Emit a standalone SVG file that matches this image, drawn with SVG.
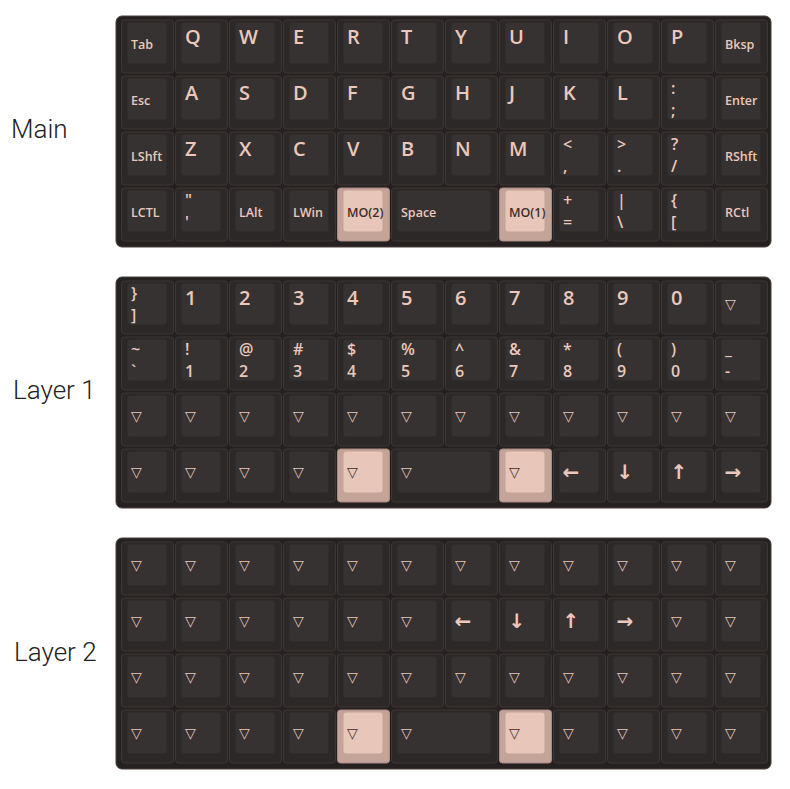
<svg xmlns="http://www.w3.org/2000/svg" width="790" height="789" viewBox="0 0 790 789">
<style>
.frame{fill:#252120;stroke:#4a3e3a;stroke-width:1}
.ko{fill:#2b2827;stroke:#3e3633;stroke-width:1;rx:3px;ry:3px}
.kc{fill:#363231;rx:3px;ry:3px}
.hl .ko{fill:#c4a398;stroke:#a88a80}
.hl .kc{fill:#e8c6ba}
text{font-family:"Open Sans","Liberation Sans",sans-serif;fill:#ebc8bb;font-weight:700}
.hl text{fill:#3d302c}
.b{font-size:20px;font-weight:600}
.s{font-size:12.5px;font-weight:600}
.t{font-size:16px;font-weight:600}
.tri{font-family:"DejaVu Sans",sans-serif;font-size:14px;font-weight:400}
.arr{font-family:"DejaVu Sans",sans-serif;font-size:20px;font-weight:700}
.title{font-family:Roboto,"Liberation Sans",sans-serif;font-size:26px;font-weight:300;fill:#222}
</style>

<g id="titles">
<text class="title" x="11" y="138">Main</text>
<text class="title" x="13" y="399">Layer 1</text>
<text class="title" x="14" y="661">Layer 2</text>
</g>

<g id="main">
<rect class="frame" x="116" y="16" width="655" height="231" rx="6"/>
<!-- row 0 -->
<g id="m-tab" transform="translate(121.5,20)"><rect class="ko" width="52" height="53"/><rect class="kc" x="6" y="2.5" width="39" height="41"/><text class="s" x="9.5" y="29">Tab</text></g>
<g id="m-q" transform="translate(175.5,20)"><rect class="ko" width="52" height="53"/><rect class="kc" x="6" y="2.5" width="39" height="41"/><text class="b" x="9.5" y="23.5">Q</text></g>
<g id="m-w" transform="translate(229.5,20)"><rect class="ko" width="52" height="53"/><rect class="kc" x="6" y="2.5" width="39" height="41"/><text class="b" x="9.5" y="23.5">W</text></g>
<g id="m-e" transform="translate(283.5,20)"><rect class="ko" width="52" height="53"/><rect class="kc" x="6" y="2.5" width="39" height="41"/><text class="b" x="9.5" y="23.5">E</text></g>
<g id="m-r" transform="translate(337.5,20)"><rect class="ko" width="52" height="53"/><rect class="kc" x="6" y="2.5" width="39" height="41"/><text class="b" x="9.5" y="23.5">R</text></g>
<g id="m-t" transform="translate(391.5,20)"><rect class="ko" width="52" height="53"/><rect class="kc" x="6" y="2.5" width="39" height="41"/><text class="b" x="9.5" y="23.5">T</text></g>
<g id="m-y" transform="translate(445.5,20)"><rect class="ko" width="52" height="53"/><rect class="kc" x="6" y="2.5" width="39" height="41"/><text class="b" x="9.5" y="23.5">Y</text></g>
<g id="m-u" transform="translate(499.5,20)"><rect class="ko" width="52" height="53"/><rect class="kc" x="6" y="2.5" width="39" height="41"/><text class="b" x="9.5" y="23.5">U</text></g>
<g id="m-i" transform="translate(553.5,20)"><rect class="ko" width="52" height="53"/><rect class="kc" x="6" y="2.5" width="39" height="41"/><text class="b" x="9.5" y="23.5">I</text></g>
<g id="m-o" transform="translate(607.5,20)"><rect class="ko" width="52" height="53"/><rect class="kc" x="6" y="2.5" width="39" height="41"/><text class="b" x="9.5" y="23.5">O</text></g>
<g id="m-p" transform="translate(661.5,20)"><rect class="ko" width="52" height="53"/><rect class="kc" x="6" y="2.5" width="39" height="41"/><text class="b" x="9.5" y="23.5">P</text></g>
<g id="m-bksp" transform="translate(715.5,20)"><rect class="ko" width="52" height="53"/><rect class="kc" x="6" y="2.5" width="39" height="41"/><text class="s" x="9.5" y="29">Bksp</text></g>
<!-- row 1 -->
<g id="m-esc" transform="translate(121.5,76)"><rect class="ko" width="52" height="53"/><rect class="kc" x="6" y="2.5" width="39" height="41"/><text class="s" x="9.5" y="29">Esc</text></g>
<g id="m-a" transform="translate(175.5,76)"><rect class="ko" width="52" height="53"/><rect class="kc" x="6" y="2.5" width="39" height="41"/><text class="b" x="9.5" y="23.5">A</text></g>
<g id="m-s" transform="translate(229.5,76)"><rect class="ko" width="52" height="53"/><rect class="kc" x="6" y="2.5" width="39" height="41"/><text class="b" x="9.5" y="23.5">S</text></g>
<g id="m-d" transform="translate(283.5,76)"><rect class="ko" width="52" height="53"/><rect class="kc" x="6" y="2.5" width="39" height="41"/><text class="b" x="9.5" y="23.5">D</text></g>
<g id="m-f" transform="translate(337.5,76)"><rect class="ko" width="52" height="53"/><rect class="kc" x="6" y="2.5" width="39" height="41"/><text class="b" x="9.5" y="23.5">F</text></g>
<g id="m-g" transform="translate(391.5,76)"><rect class="ko" width="52" height="53"/><rect class="kc" x="6" y="2.5" width="39" height="41"/><text class="b" x="9.5" y="23.5">G</text></g>
<g id="m-h" transform="translate(445.5,76)"><rect class="ko" width="52" height="53"/><rect class="kc" x="6" y="2.5" width="39" height="41"/><text class="b" x="9.5" y="23.5">H</text></g>
<g id="m-j" transform="translate(499.5,76)"><rect class="ko" width="52" height="53"/><rect class="kc" x="6" y="2.5" width="39" height="41"/><text class="b" x="9.5" y="23.5">J</text></g>
<g id="m-k" transform="translate(553.5,76)"><rect class="ko" width="52" height="53"/><rect class="kc" x="6" y="2.5" width="39" height="41"/><text class="b" x="9.5" y="23.5">K</text></g>
<g id="m-l" transform="translate(607.5,76)"><rect class="ko" width="52" height="53"/><rect class="kc" x="6" y="2.5" width="39" height="41"/><text class="b" x="9.5" y="23.5">L</text></g>
<g id="m-semi" transform="translate(661.5,76)"><rect class="ko" width="52" height="53"/><rect class="kc" x="6" y="2.5" width="39" height="41"/><text class="t" x="9.5" y="18">:</text><text class="t" x="9.5" y="40">;</text></g>
<g id="m-enter" transform="translate(715.5,76)"><rect class="ko" width="52" height="53"/><rect class="kc" x="6" y="2.5" width="39" height="41"/><text class="s" x="9.5" y="29">Enter</text></g>
<!-- row 2 -->
<g id="m-lshft" transform="translate(121.5,132)"><rect class="ko" width="52" height="53"/><rect class="kc" x="6" y="2.5" width="39" height="41"/><text class="s" x="9.5" y="29">LShft</text></g>
<g id="m-z" transform="translate(175.5,132)"><rect class="ko" width="52" height="53"/><rect class="kc" x="6" y="2.5" width="39" height="41"/><text class="b" x="9.5" y="23.5">Z</text></g>
<g id="m-x" transform="translate(229.5,132)"><rect class="ko" width="52" height="53"/><rect class="kc" x="6" y="2.5" width="39" height="41"/><text class="b" x="9.5" y="23.5">X</text></g>
<g id="m-c" transform="translate(283.5,132)"><rect class="ko" width="52" height="53"/><rect class="kc" x="6" y="2.5" width="39" height="41"/><text class="b" x="9.5" y="23.5">C</text></g>
<g id="m-v" transform="translate(337.5,132)"><rect class="ko" width="52" height="53"/><rect class="kc" x="6" y="2.5" width="39" height="41"/><text class="b" x="9.5" y="23.5">V</text></g>
<g id="m-b" transform="translate(391.5,132)"><rect class="ko" width="52" height="53"/><rect class="kc" x="6" y="2.5" width="39" height="41"/><text class="b" x="9.5" y="23.5">B</text></g>
<g id="m-n" transform="translate(445.5,132)"><rect class="ko" width="52" height="53"/><rect class="kc" x="6" y="2.5" width="39" height="41"/><text class="b" x="9.5" y="23.5">N</text></g>
<g id="m-m" transform="translate(499.5,132)"><rect class="ko" width="52" height="53"/><rect class="kc" x="6" y="2.5" width="39" height="41"/><text class="b" x="9.5" y="23.5">M</text></g>
<g id="m-comma" transform="translate(553.5,132)"><rect class="ko" width="52" height="53"/><rect class="kc" x="6" y="2.5" width="39" height="41"/><text class="t" x="9.5" y="18">&lt;</text><text class="t" x="9.5" y="40">,</text></g>
<g id="m-dot" transform="translate(607.5,132)"><rect class="ko" width="52" height="53"/><rect class="kc" x="6" y="2.5" width="39" height="41"/><text class="t" x="9.5" y="18">&gt;</text><text class="t" x="9.5" y="40">.</text></g>
<g id="m-slash" transform="translate(661.5,132)"><rect class="ko" width="52" height="53"/><rect class="kc" x="6" y="2.5" width="39" height="41"/><text class="t" x="9.5" y="18">?</text><text class="t" x="9.5" y="40">/</text></g>
<g id="m-rshft" transform="translate(715.5,132)"><rect class="ko" width="52" height="53"/><rect class="kc" x="6" y="2.5" width="39" height="41"/><text class="s" x="9.5" y="29">RShft</text></g>
<!-- row 3 -->
<g id="m-lctl" transform="translate(121.5,188)"><rect class="ko" width="52" height="53"/><rect class="kc" x="6" y="2.5" width="39" height="41"/><text class="s" x="9.5" y="29">LCTL</text></g>
<g id="m-quote" transform="translate(175.5,188)"><rect class="ko" width="52" height="53"/><rect class="kc" x="6" y="2.5" width="39" height="41"/><text class="t" x="9.5" y="18">"</text><text class="t" x="9.5" y="40">'</text></g>
<g id="m-lalt" transform="translate(229.5,188)"><rect class="ko" width="52" height="53"/><rect class="kc" x="6" y="2.5" width="39" height="41"/><text class="s" x="9.5" y="29">LAlt</text></g>
<g id="m-lwin" transform="translate(283.5,188)"><rect class="ko" width="52" height="53"/><rect class="kc" x="6" y="2.5" width="39" height="41"/><text class="s" x="9.5" y="29">LWin</text></g>
<g id="m-mo2" class="hl" transform="translate(337.5,188)"><rect class="ko" width="52" height="53"/><rect class="kc" x="6" y="2.5" width="39" height="41"/><text class="s" x="9.5" y="29">MO(2)</text></g>
<g id="m-space" transform="translate(391.5,188)"><rect class="ko" width="106" height="53"/><rect class="kc" x="6" y="2.5" width="93" height="41"/><text class="s" x="9.5" y="29">Space</text></g>
<g id="m-mo1" class="hl" transform="translate(499.5,188)"><rect class="ko" width="52" height="53"/><rect class="kc" x="6" y="2.5" width="39" height="41"/><text class="s" x="9.5" y="29">MO(1)</text></g>
<g id="m-equal" transform="translate(553.5,188)"><rect class="ko" width="52" height="53"/><rect class="kc" x="6" y="2.5" width="39" height="41"/><text class="t" x="9.5" y="18">+</text><text class="t" x="9.5" y="40">=</text></g>
<g id="m-bslash" transform="translate(607.5,188)"><rect class="ko" width="52" height="53"/><rect class="kc" x="6" y="2.5" width="39" height="41"/><text class="t" x="9.5" y="18">|</text><text class="t" x="9.5" y="40">\</text></g>
<g id="m-lbrc" transform="translate(661.5,188)"><rect class="ko" width="52" height="53"/><rect class="kc" x="6" y="2.5" width="39" height="41"/><text class="t" x="9.5" y="18">{</text><text class="t" x="9.5" y="40">[</text></g>
<g id="m-rctl" transform="translate(715.5,188)"><rect class="ko" width="52" height="53"/><rect class="kc" x="6" y="2.5" width="39" height="41"/><text class="s" x="9.5" y="29">RCtl</text></g>
</g>

<g id="layer1">
<rect class="frame" x="116" y="277" width="655" height="231" rx="6"/>
<!-- row 0 -->
<g id="l1-rbrc" transform="translate(121.5,281)"><rect class="ko" width="52" height="53"/><rect class="kc" x="6" y="2.5" width="39" height="41"/><text class="t" x="9.5" y="18">}</text><text class="t" x="9.5" y="40">]</text></g>
<g id="l1-1" transform="translate(175.5,281)"><rect class="ko" width="52" height="53"/><rect class="kc" x="6" y="2.5" width="39" height="41"/><text class="b" x="9.5" y="23.5">1</text></g>
<g id="l1-2" transform="translate(229.5,281)"><rect class="ko" width="52" height="53"/><rect class="kc" x="6" y="2.5" width="39" height="41"/><text class="b" x="9.5" y="23.5">2</text></g>
<g id="l1-3" transform="translate(283.5,281)"><rect class="ko" width="52" height="53"/><rect class="kc" x="6" y="2.5" width="39" height="41"/><text class="b" x="9.5" y="23.5">3</text></g>
<g id="l1-4" transform="translate(337.5,281)"><rect class="ko" width="52" height="53"/><rect class="kc" x="6" y="2.5" width="39" height="41"/><text class="b" x="9.5" y="23.5">4</text></g>
<g id="l1-5" transform="translate(391.5,281)"><rect class="ko" width="52" height="53"/><rect class="kc" x="6" y="2.5" width="39" height="41"/><text class="b" x="9.5" y="23.5">5</text></g>
<g id="l1-6" transform="translate(445.5,281)"><rect class="ko" width="52" height="53"/><rect class="kc" x="6" y="2.5" width="39" height="41"/><text class="b" x="9.5" y="23.5">6</text></g>
<g id="l1-7" transform="translate(499.5,281)"><rect class="ko" width="52" height="53"/><rect class="kc" x="6" y="2.5" width="39" height="41"/><text class="b" x="9.5" y="23.5">7</text></g>
<g id="l1-8" transform="translate(553.5,281)"><rect class="ko" width="52" height="53"/><rect class="kc" x="6" y="2.5" width="39" height="41"/><text class="b" x="9.5" y="23.5">8</text></g>
<g id="l1-9" transform="translate(607.5,281)"><rect class="ko" width="52" height="53"/><rect class="kc" x="6" y="2.5" width="39" height="41"/><text class="b" x="9.5" y="23.5">9</text></g>
<g id="l1-0" transform="translate(661.5,281)"><rect class="ko" width="52" height="53"/><rect class="kc" x="6" y="2.5" width="39" height="41"/><text class="b" x="9.5" y="23.5">0</text></g>
<g id="l1-r0c11" transform="translate(715.5,281)"><rect class="ko" width="52" height="53"/><rect class="kc" x="6" y="2.5" width="39" height="41"/><text class="tri" x="9.5" y="28">▽</text></g>
<!-- row 1 -->
<g id="l1-grave" transform="translate(121.5,337)"><rect class="ko" width="52" height="53"/><rect class="kc" x="6" y="2.5" width="39" height="41"/><text class="t" x="9.5" y="18">~</text><text class="t" x="9.5" y="40">`</text></g>
<g id="l1-s1" transform="translate(175.5,337)"><rect class="ko" width="52" height="53"/><rect class="kc" x="6" y="2.5" width="39" height="41"/><text class="t" x="9.5" y="18">!</text><text class="t" x="9.5" y="40">1</text></g>
<g id="l1-s2" transform="translate(229.5,337)"><rect class="ko" width="52" height="53"/><rect class="kc" x="6" y="2.5" width="39" height="41"/><text class="t" x="9.5" y="18">@</text><text class="t" x="9.5" y="40">2</text></g>
<g id="l1-s3" transform="translate(283.5,337)"><rect class="ko" width="52" height="53"/><rect class="kc" x="6" y="2.5" width="39" height="41"/><text class="t" x="9.5" y="18">#</text><text class="t" x="9.5" y="40">3</text></g>
<g id="l1-s4" transform="translate(337.5,337)"><rect class="ko" width="52" height="53"/><rect class="kc" x="6" y="2.5" width="39" height="41"/><text class="t" x="9.5" y="18">$</text><text class="t" x="9.5" y="40">4</text></g>
<g id="l1-s5" transform="translate(391.5,337)"><rect class="ko" width="52" height="53"/><rect class="kc" x="6" y="2.5" width="39" height="41"/><text class="t" x="9.5" y="18">%</text><text class="t" x="9.5" y="40">5</text></g>
<g id="l1-s6" transform="translate(445.5,337)"><rect class="ko" width="52" height="53"/><rect class="kc" x="6" y="2.5" width="39" height="41"/><text class="t" x="9.5" y="18">^</text><text class="t" x="9.5" y="40">6</text></g>
<g id="l1-s7" transform="translate(499.5,337)"><rect class="ko" width="52" height="53"/><rect class="kc" x="6" y="2.5" width="39" height="41"/><text class="t" x="9.5" y="18">&amp;</text><text class="t" x="9.5" y="40">7</text></g>
<g id="l1-s8" transform="translate(553.5,337)"><rect class="ko" width="52" height="53"/><rect class="kc" x="6" y="2.5" width="39" height="41"/><text class="t" x="9.5" y="18">*</text><text class="t" x="9.5" y="40">8</text></g>
<g id="l1-s9" transform="translate(607.5,337)"><rect class="ko" width="52" height="53"/><rect class="kc" x="6" y="2.5" width="39" height="41"/><text class="t" x="9.5" y="18">(</text><text class="t" x="9.5" y="40">9</text></g>
<g id="l1-s0" transform="translate(661.5,337)"><rect class="ko" width="52" height="53"/><rect class="kc" x="6" y="2.5" width="39" height="41"/><text class="t" x="9.5" y="18">)</text><text class="t" x="9.5" y="40">0</text></g>
<g id="l1-minus" transform="translate(715.5,337)"><rect class="ko" width="52" height="53"/><rect class="kc" x="6" y="2.5" width="39" height="41"/><text class="t" x="9.5" y="18">_</text><text class="t" x="9.5" y="40">-</text></g>
<!-- row 2 -->
<g id="l1-r2c0" transform="translate(121.5,393)"><rect class="ko" width="52" height="53"/><rect class="kc" x="6" y="2.5" width="39" height="41"/><text class="tri" x="9.5" y="28">▽</text></g>
<g id="l1-r2c1" transform="translate(175.5,393)"><rect class="ko" width="52" height="53"/><rect class="kc" x="6" y="2.5" width="39" height="41"/><text class="tri" x="9.5" y="28">▽</text></g>
<g id="l1-r2c2" transform="translate(229.5,393)"><rect class="ko" width="52" height="53"/><rect class="kc" x="6" y="2.5" width="39" height="41"/><text class="tri" x="9.5" y="28">▽</text></g>
<g id="l1-r2c3" transform="translate(283.5,393)"><rect class="ko" width="52" height="53"/><rect class="kc" x="6" y="2.5" width="39" height="41"/><text class="tri" x="9.5" y="28">▽</text></g>
<g id="l1-r2c4" transform="translate(337.5,393)"><rect class="ko" width="52" height="53"/><rect class="kc" x="6" y="2.5" width="39" height="41"/><text class="tri" x="9.5" y="28">▽</text></g>
<g id="l1-r2c5" transform="translate(391.5,393)"><rect class="ko" width="52" height="53"/><rect class="kc" x="6" y="2.5" width="39" height="41"/><text class="tri" x="9.5" y="28">▽</text></g>
<g id="l1-r2c6" transform="translate(445.5,393)"><rect class="ko" width="52" height="53"/><rect class="kc" x="6" y="2.5" width="39" height="41"/><text class="tri" x="9.5" y="28">▽</text></g>
<g id="l1-r2c7" transform="translate(499.5,393)"><rect class="ko" width="52" height="53"/><rect class="kc" x="6" y="2.5" width="39" height="41"/><text class="tri" x="9.5" y="28">▽</text></g>
<g id="l1-r2c8" transform="translate(553.5,393)"><rect class="ko" width="52" height="53"/><rect class="kc" x="6" y="2.5" width="39" height="41"/><text class="tri" x="9.5" y="28">▽</text></g>
<g id="l1-r2c9" transform="translate(607.5,393)"><rect class="ko" width="52" height="53"/><rect class="kc" x="6" y="2.5" width="39" height="41"/><text class="tri" x="9.5" y="28">▽</text></g>
<g id="l1-r2c10" transform="translate(661.5,393)"><rect class="ko" width="52" height="53"/><rect class="kc" x="6" y="2.5" width="39" height="41"/><text class="tri" x="9.5" y="28">▽</text></g>
<g id="l1-r2c11" transform="translate(715.5,393)"><rect class="ko" width="52" height="53"/><rect class="kc" x="6" y="2.5" width="39" height="41"/><text class="tri" x="9.5" y="28">▽</text></g>
<!-- row 3 -->
<g id="l1-r3c0" transform="translate(121.5,449)"><rect class="ko" width="52" height="53"/><rect class="kc" x="6" y="2.5" width="39" height="41"/><text class="tri" x="9.5" y="28">▽</text></g>
<g id="l1-r3c1" transform="translate(175.5,449)"><rect class="ko" width="52" height="53"/><rect class="kc" x="6" y="2.5" width="39" height="41"/><text class="tri" x="9.5" y="28">▽</text></g>
<g id="l1-r3c2" transform="translate(229.5,449)"><rect class="ko" width="52" height="53"/><rect class="kc" x="6" y="2.5" width="39" height="41"/><text class="tri" x="9.5" y="28">▽</text></g>
<g id="l1-r3c3" transform="translate(283.5,449)"><rect class="ko" width="52" height="53"/><rect class="kc" x="6" y="2.5" width="39" height="41"/><text class="tri" x="9.5" y="28">▽</text></g>
<g id="l1-r3c4" class="hl" transform="translate(337.5,449)"><rect class="ko" width="52" height="53"/><rect class="kc" x="6" y="2.5" width="39" height="41"/><text class="tri" x="9.5" y="28">▽</text></g>
<g id="l1-r3c5" transform="translate(391.5,449)"><rect class="ko" width="106" height="53"/><rect class="kc" x="6" y="2.5" width="93" height="41"/><text class="tri" x="9.5" y="28">▽</text></g>
<g id="l1-r3c7" class="hl" transform="translate(499.5,449)"><rect class="ko" width="52" height="53"/><rect class="kc" x="6" y="2.5" width="39" height="41"/><text class="tri" x="9.5" y="28">▽</text></g>
<g id="l1-left" transform="translate(553.5,449)"><rect class="ko" width="52" height="53"/><rect class="kc" x="6" y="2.5" width="39" height="41"/><text class="arr" x="9" y="30">←</text></g>
<g id="l1-down" transform="translate(607.5,449)"><rect class="ko" width="52" height="53"/><rect class="kc" x="6" y="2.5" width="39" height="41"/><text class="arr" x="9" y="30">↓</text></g>
<g id="l1-up" transform="translate(661.5,449)"><rect class="ko" width="52" height="53"/><rect class="kc" x="6" y="2.5" width="39" height="41"/><text class="arr" x="9" y="30">↑</text></g>
<g id="l1-right" transform="translate(715.5,449)"><rect class="ko" width="52" height="53"/><rect class="kc" x="6" y="2.5" width="39" height="41"/><text class="arr" x="9" y="30">→</text></g>
</g>

<g id="layer2">
<rect class="frame" x="116" y="538" width="655" height="231" rx="6"/>
<!-- row 0 -->
<g id="l2-r0c0" transform="translate(121.5,542)"><rect class="ko" width="52" height="53"/><rect class="kc" x="6" y="2.5" width="39" height="41"/><text class="tri" x="9.5" y="28">▽</text></g>
<g id="l2-r0c1" transform="translate(175.5,542)"><rect class="ko" width="52" height="53"/><rect class="kc" x="6" y="2.5" width="39" height="41"/><text class="tri" x="9.5" y="28">▽</text></g>
<g id="l2-r0c2" transform="translate(229.5,542)"><rect class="ko" width="52" height="53"/><rect class="kc" x="6" y="2.5" width="39" height="41"/><text class="tri" x="9.5" y="28">▽</text></g>
<g id="l2-r0c3" transform="translate(283.5,542)"><rect class="ko" width="52" height="53"/><rect class="kc" x="6" y="2.5" width="39" height="41"/><text class="tri" x="9.5" y="28">▽</text></g>
<g id="l2-r0c4" transform="translate(337.5,542)"><rect class="ko" width="52" height="53"/><rect class="kc" x="6" y="2.5" width="39" height="41"/><text class="tri" x="9.5" y="28">▽</text></g>
<g id="l2-r0c5" transform="translate(391.5,542)"><rect class="ko" width="52" height="53"/><rect class="kc" x="6" y="2.5" width="39" height="41"/><text class="tri" x="9.5" y="28">▽</text></g>
<g id="l2-r0c6" transform="translate(445.5,542)"><rect class="ko" width="52" height="53"/><rect class="kc" x="6" y="2.5" width="39" height="41"/><text class="tri" x="9.5" y="28">▽</text></g>
<g id="l2-r0c7" transform="translate(499.5,542)"><rect class="ko" width="52" height="53"/><rect class="kc" x="6" y="2.5" width="39" height="41"/><text class="tri" x="9.5" y="28">▽</text></g>
<g id="l2-r0c8" transform="translate(553.5,542)"><rect class="ko" width="52" height="53"/><rect class="kc" x="6" y="2.5" width="39" height="41"/><text class="tri" x="9.5" y="28">▽</text></g>
<g id="l2-r0c9" transform="translate(607.5,542)"><rect class="ko" width="52" height="53"/><rect class="kc" x="6" y="2.5" width="39" height="41"/><text class="tri" x="9.5" y="28">▽</text></g>
<g id="l2-r0c10" transform="translate(661.5,542)"><rect class="ko" width="52" height="53"/><rect class="kc" x="6" y="2.5" width="39" height="41"/><text class="tri" x="9.5" y="28">▽</text></g>
<g id="l2-r0c11" transform="translate(715.5,542)"><rect class="ko" width="52" height="53"/><rect class="kc" x="6" y="2.5" width="39" height="41"/><text class="tri" x="9.5" y="28">▽</text></g>
<!-- row 1 -->
<g id="l2-r1c0" transform="translate(121.5,598)"><rect class="ko" width="52" height="53"/><rect class="kc" x="6" y="2.5" width="39" height="41"/><text class="tri" x="9.5" y="28">▽</text></g>
<g id="l2-r1c1" transform="translate(175.5,598)"><rect class="ko" width="52" height="53"/><rect class="kc" x="6" y="2.5" width="39" height="41"/><text class="tri" x="9.5" y="28">▽</text></g>
<g id="l2-r1c2" transform="translate(229.5,598)"><rect class="ko" width="52" height="53"/><rect class="kc" x="6" y="2.5" width="39" height="41"/><text class="tri" x="9.5" y="28">▽</text></g>
<g id="l2-r1c3" transform="translate(283.5,598)"><rect class="ko" width="52" height="53"/><rect class="kc" x="6" y="2.5" width="39" height="41"/><text class="tri" x="9.5" y="28">▽</text></g>
<g id="l2-r1c4" transform="translate(337.5,598)"><rect class="ko" width="52" height="53"/><rect class="kc" x="6" y="2.5" width="39" height="41"/><text class="tri" x="9.5" y="28">▽</text></g>
<g id="l2-r1c5" transform="translate(391.5,598)"><rect class="ko" width="52" height="53"/><rect class="kc" x="6" y="2.5" width="39" height="41"/><text class="tri" x="9.5" y="28">▽</text></g>
<g id="l2-left" transform="translate(445.5,598)"><rect class="ko" width="52" height="53"/><rect class="kc" x="6" y="2.5" width="39" height="41"/><text class="arr" x="9" y="30">←</text></g>
<g id="l2-down" transform="translate(499.5,598)"><rect class="ko" width="52" height="53"/><rect class="kc" x="6" y="2.5" width="39" height="41"/><text class="arr" x="9" y="30">↓</text></g>
<g id="l2-up" transform="translate(553.5,598)"><rect class="ko" width="52" height="53"/><rect class="kc" x="6" y="2.5" width="39" height="41"/><text class="arr" x="9" y="30">↑</text></g>
<g id="l2-right" transform="translate(607.5,598)"><rect class="ko" width="52" height="53"/><rect class="kc" x="6" y="2.5" width="39" height="41"/><text class="arr" x="9" y="30">→</text></g>
<g id="l2-r1c10" transform="translate(661.5,598)"><rect class="ko" width="52" height="53"/><rect class="kc" x="6" y="2.5" width="39" height="41"/><text class="tri" x="9.5" y="28">▽</text></g>
<g id="l2-r1c11" transform="translate(715.5,598)"><rect class="ko" width="52" height="53"/><rect class="kc" x="6" y="2.5" width="39" height="41"/><text class="tri" x="9.5" y="28">▽</text></g>
<!-- row 2 -->
<g id="l2-r2c0" transform="translate(121.5,654)"><rect class="ko" width="52" height="53"/><rect class="kc" x="6" y="2.5" width="39" height="41"/><text class="tri" x="9.5" y="28">▽</text></g>
<g id="l2-r2c1" transform="translate(175.5,654)"><rect class="ko" width="52" height="53"/><rect class="kc" x="6" y="2.5" width="39" height="41"/><text class="tri" x="9.5" y="28">▽</text></g>
<g id="l2-r2c2" transform="translate(229.5,654)"><rect class="ko" width="52" height="53"/><rect class="kc" x="6" y="2.5" width="39" height="41"/><text class="tri" x="9.5" y="28">▽</text></g>
<g id="l2-r2c3" transform="translate(283.5,654)"><rect class="ko" width="52" height="53"/><rect class="kc" x="6" y="2.5" width="39" height="41"/><text class="tri" x="9.5" y="28">▽</text></g>
<g id="l2-r2c4" transform="translate(337.5,654)"><rect class="ko" width="52" height="53"/><rect class="kc" x="6" y="2.5" width="39" height="41"/><text class="tri" x="9.5" y="28">▽</text></g>
<g id="l2-r2c5" transform="translate(391.5,654)"><rect class="ko" width="52" height="53"/><rect class="kc" x="6" y="2.5" width="39" height="41"/><text class="tri" x="9.5" y="28">▽</text></g>
<g id="l2-r2c6" transform="translate(445.5,654)"><rect class="ko" width="52" height="53"/><rect class="kc" x="6" y="2.5" width="39" height="41"/><text class="tri" x="9.5" y="28">▽</text></g>
<g id="l2-r2c7" transform="translate(499.5,654)"><rect class="ko" width="52" height="53"/><rect class="kc" x="6" y="2.5" width="39" height="41"/><text class="tri" x="9.5" y="28">▽</text></g>
<g id="l2-r2c8" transform="translate(553.5,654)"><rect class="ko" width="52" height="53"/><rect class="kc" x="6" y="2.5" width="39" height="41"/><text class="tri" x="9.5" y="28">▽</text></g>
<g id="l2-r2c9" transform="translate(607.5,654)"><rect class="ko" width="52" height="53"/><rect class="kc" x="6" y="2.5" width="39" height="41"/><text class="tri" x="9.5" y="28">▽</text></g>
<g id="l2-r2c10" transform="translate(661.5,654)"><rect class="ko" width="52" height="53"/><rect class="kc" x="6" y="2.5" width="39" height="41"/><text class="tri" x="9.5" y="28">▽</text></g>
<g id="l2-r2c11" transform="translate(715.5,654)"><rect class="ko" width="52" height="53"/><rect class="kc" x="6" y="2.5" width="39" height="41"/><text class="tri" x="9.5" y="28">▽</text></g>
<!-- row 3 -->
<g id="l2-r3c0" transform="translate(121.5,710)"><rect class="ko" width="52" height="53"/><rect class="kc" x="6" y="2.5" width="39" height="41"/><text class="tri" x="9.5" y="28">▽</text></g>
<g id="l2-r3c1" transform="translate(175.5,710)"><rect class="ko" width="52" height="53"/><rect class="kc" x="6" y="2.5" width="39" height="41"/><text class="tri" x="9.5" y="28">▽</text></g>
<g id="l2-r3c2" transform="translate(229.5,710)"><rect class="ko" width="52" height="53"/><rect class="kc" x="6" y="2.5" width="39" height="41"/><text class="tri" x="9.5" y="28">▽</text></g>
<g id="l2-r3c3" transform="translate(283.5,710)"><rect class="ko" width="52" height="53"/><rect class="kc" x="6" y="2.5" width="39" height="41"/><text class="tri" x="9.5" y="28">▽</text></g>
<g id="l2-r3c4" class="hl" transform="translate(337.5,710)"><rect class="ko" width="52" height="53"/><rect class="kc" x="6" y="2.5" width="39" height="41"/><text class="tri" x="9.5" y="28">▽</text></g>
<g id="l2-r3c5" transform="translate(391.5,710)"><rect class="ko" width="106" height="53"/><rect class="kc" x="6" y="2.5" width="93" height="41"/><text class="tri" x="9.5" y="28">▽</text></g>
<g id="l2-r3c7" class="hl" transform="translate(499.5,710)"><rect class="ko" width="52" height="53"/><rect class="kc" x="6" y="2.5" width="39" height="41"/><text class="tri" x="9.5" y="28">▽</text></g>
<g id="l2-r3c8" transform="translate(553.5,710)"><rect class="ko" width="52" height="53"/><rect class="kc" x="6" y="2.5" width="39" height="41"/><text class="tri" x="9.5" y="28">▽</text></g>
<g id="l2-r3c9" transform="translate(607.5,710)"><rect class="ko" width="52" height="53"/><rect class="kc" x="6" y="2.5" width="39" height="41"/><text class="tri" x="9.5" y="28">▽</text></g>
<g id="l2-r3c10" transform="translate(661.5,710)"><rect class="ko" width="52" height="53"/><rect class="kc" x="6" y="2.5" width="39" height="41"/><text class="tri" x="9.5" y="28">▽</text></g>
<g id="l2-r3c11" transform="translate(715.5,710)"><rect class="ko" width="52" height="53"/><rect class="kc" x="6" y="2.5" width="39" height="41"/><text class="tri" x="9.5" y="28">▽</text></g>
</g>
</svg>
